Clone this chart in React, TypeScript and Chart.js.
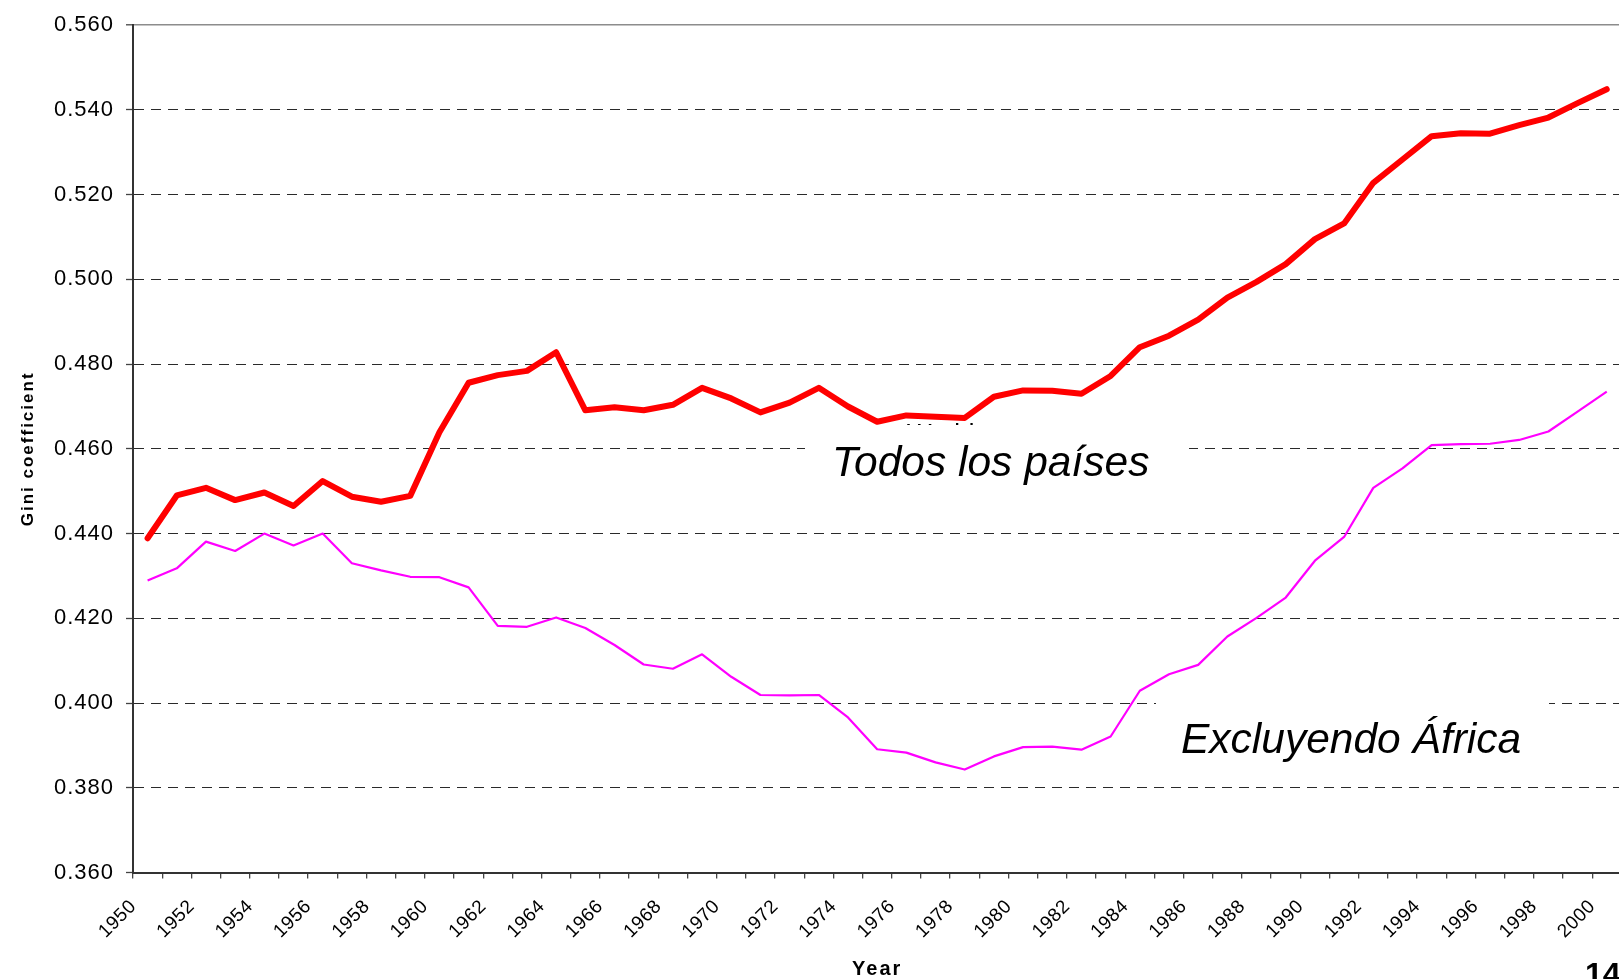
import React, { useEffect, useRef } from "react";
import { Chart, registerables } from "chart.js";

Chart.register(...registerables);

const years: string[] = [
  "1950", "1951", "1952", "1953", "1954", "1955", "1956", "1957", "1958", "1959",
  "1960", "1961", "1962", "1963", "1964", "1965", "1966", "1967", "1968", "1969",
  "1970", "1971", "1972", "1973", "1974", "1975", "1976", "1977", "1978", "1979",
  "1980", "1981", "1982", "1983", "1984", "1985", "1986", "1987", "1988", "1989",
  "1990", "1991", "1992", "1993", "1994", "1995", "1996", "1997", "1998", "1999",
  "2000",
];

const todosLosPaises: number[] = [
  0.4389, 0.449, 0.4508, 0.4479, 0.4497, 0.4465, 0.4524, 0.4487, 0.4475, 0.4489,
  0.4639, 0.4756, 0.4774, 0.4784, 0.4828, 0.4691, 0.4698, 0.4691, 0.4704, 0.4744,
  0.4719, 0.4686, 0.4709, 0.4744, 0.47, 0.4664, 0.4679, 0.4676, 0.4673, 0.4723,
  0.4738, 0.4737, 0.473, 0.4772, 0.484, 0.4867, 0.4905, 0.4957, 0.4994, 0.5036,
  0.5095, 0.5132, 0.5228, 0.5283, 0.5338, 0.5345, 0.5344, 0.5364, 0.5382, 0.5416,
  0.5449,
];

const excluyendoAfrica: number[] = [
  0.4289, 0.4318, 0.4381, 0.4359, 0.44, 0.4372, 0.44, 0.433, 0.4313, 0.4298,
  0.4297, 0.4273, 0.4182, 0.418, 0.4202, 0.4177, 0.4137, 0.4091, 0.4081, 0.4115,
  0.4062, 0.4019, 0.4018, 0.4019, 0.3966, 0.3891, 0.3883, 0.386, 0.3843, 0.3874,
  0.3896, 0.3897, 0.389, 0.3921, 0.4029, 0.4068, 0.409, 0.4157, 0.4201, 0.4249,
  0.4336, 0.4392, 0.4508, 0.4554, 0.4609, 0.4611, 0.4612, 0.4621, 0.4641, 0.4688,
  0.4735,
];

const yMin = 0.36;
const yMax = 0.56;
const yStep = 0.02;

const seriesNames = ["Todos los países", "Excluyendo África"];
const hiddenLabel = "World";
const xTitle = "Year";
const yTitle = "Gini coefficient";
const pageNumber = "14";

const FONT = '"Liberation Sans", Arial, Helvetica, sans-serif';

function spaceScaleText(scale: any, labelSpacing: string, titleSpacing: string) {
  const drawLabels = scale.drawLabels.bind(scale);
  scale.drawLabels = (area: any) => {
    const c = scale.ctx as any;
    c.save();
    c.letterSpacing = labelSpacing;
    drawLabels(area);
    c.restore();
  };
  const drawTitle = scale.drawTitle.bind(scale);
  scale.drawTitle = (area: any) => {
    const c = scale.ctx as any;
    c.save();
    c.letterSpacing = titleSpacing;
    drawTitle(area);
    c.restore();
  };
}

export default function App() {
  const ref = useRef<HTMLCanvasElement | null>(null);

  useEffect(() => {
    if (!ref.current) return;

    const annotations = {
      id: "annotations",
      afterDraw(chart: any) {
        const ctx = chart.ctx as any;
        ctx.save();
        ctx.letterSpacing = "0px";
        ctx.textAlign = "left";
        ctx.textBaseline = "alphabetic";
        // original label hidden behind the white text box (only its top shows)
        ctx.fillStyle = "#000000";
        ctx.font = `26px ${FONT}`;
        ctx.fillText(hiddenLabel, 907, 442);
        ctx.fillStyle = "#ffffff";
        ctx.fillRect(805, 425, 384, 80);
        ctx.fillRect(1156, 696, 393, 80);
        ctx.fillStyle = "#000000";
        ctx.font = `italic 42.5px ${FONT}`;
        ctx.fillText(seriesNames[0], 832, 476);
        ctx.fillText(seriesNames[1], 1181, 752.5);
        ctx.font = `bold 32px ${FONT}`;
        ctx.fillText(pageNumber, 1585, 985);
        ctx.restore();
      },
    };

    const isTop = (c: any) => c && c.tick && Math.abs(c.tick.value - yMax) < 1e-9;
    const isBottom = (c: any) => c && c.tick && Math.abs(c.tick.value - yMin) < 1e-9;

    const chart = new Chart(ref.current, {
      type: "line",
      data: {
        labels: years,
        datasets: [
          {
            label: seriesNames[0],
            data: todosLosPaises,
            borderColor: "#ff0000",
            backgroundColor: "#ff0000",
            borderWidth: 6,
            pointRadius: 0,
            tension: 0,
            borderJoinStyle: "round",
            borderCapStyle: "round",
          },
          {
            label: seriesNames[1],
            data: excluyendoAfrica,
            borderColor: "#ff00ff",
            backgroundColor: "#ff00ff",
            borderWidth: 2.2,
            pointRadius: 0,
            tension: 0,
            borderJoinStyle: "round",
          },
        ],
      },
      options: {
        animation: false,
        responsive: true,
        maintainAspectRatio: false,
        layout: { padding: { left: 0, right: 13, top: 20.5, bottom: 0 } },
        plugins: {
          legend: { display: false },
          tooltip: { enabled: false },
        },
        scales: {
          x: {
            type: "category",
            offset: true,
            grid: {
              offset: true,
              drawOnChartArea: false,
              drawTicks: true,
              tickLength: 6,
              tickColor: "#444444",
              lineWidth: 1.3,
            },
            border: { display: true, color: "#333333", width: 2 },
            ticks: {
              autoSkip: false,
              minRotation: 45,
              maxRotation: 45,
              padding: 17,
              labelOffset: -14.3,
              color: "#000000",
              font: { family: FONT, size: 19 },
              callback: (_v: any, i: number) => (i % 2 === 0 ? years[i] : ""),
            },
            title: {
              display: true,
              text: xTitle,
              color: "#000000",
              font: { family: FONT, size: 20, weight: "bold", lineHeight: 1 },
              padding: { top: 0, bottom: 0 },
            },
            afterFit: (s: any) => {
              s.height = 106.5;
            },
          },
          y: {
            min: yMin,
            max: yMax,
            grid: {
              color: (c: any) =>
                isTop(c) ? "#8c8c8c" : isBottom(c) ? "rgba(0,0,0,0)" : "#2a2a2a",
              lineWidth: (c: any) => (isTop(c) ? 1.6 : 1),
              drawTicks: true,
              tickLength: 7,
              tickColor: "#444444",
              tickWidth: 1.3,
            },
            border: {
              display: true,
              color: "#333333",
              width: 2,
              dash: (c: any) => (isTop(c) ? [] : [10, 7]),
            },
            ticks: {
              stepSize: yStep,
              padding: 12,
              color: "#000000",
              font: { family: FONT, size: 22 },
              callback: (v: any) => Number(v).toFixed(3),
            },
            title: {
              display: true,
              text: yTitle,
              color: "#000000",
              font: { family: FONT, size: 17, weight: "bold", lineHeight: 1 },
              padding: { top: 20, bottom: 0 },
            },
            afterFit: (s: any) => {
              s.width = 133;
            },
          },
        },
      } as any,
      plugins: [annotations],
    });

    spaceScaleText(chart.scales.x, "0.5px", "2px");
    spaceScaleText(chart.scales.y, "1px", "2px");
    chart.draw();

    return () => chart.destroy();
  }, []);

  return (
    <div
      style={{
        position: "fixed",
        left: 0,
        top: 0,
        width: 1619,
        height: 979,
        overflow: "hidden",
        background: "#ffffff",
      }}
    >
      <div style={{ position: "absolute", left: 0, top: 0, width: 1640, height: 979 }}>
        <canvas ref={ref} />
      </div>
    </div>
  );
}
